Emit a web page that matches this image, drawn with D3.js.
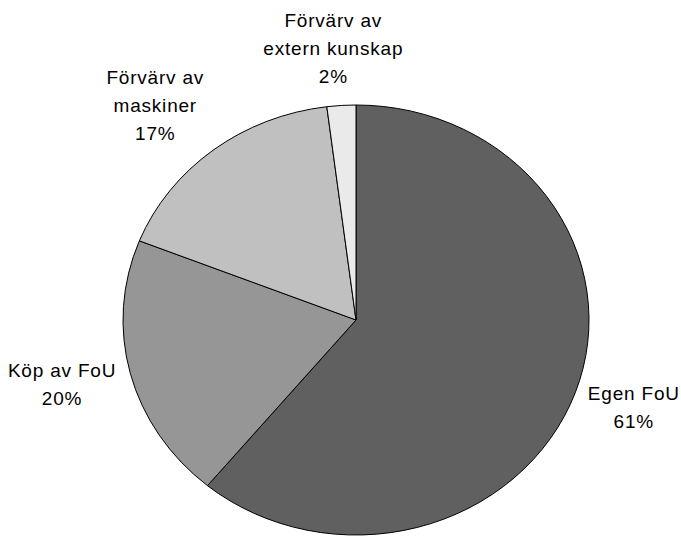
<!DOCTYPE html>
<html>
<head>
<meta charset="utf-8">
<script src="https://cdn.jsdelivr.net/npm/d3@7"></script>
<style>
  html, body { margin: 0; padding: 0; background: #fff; }
  svg { display: block; }
  text { font-family: "Liberation Sans", Arial, sans-serif; font-size: 19px; fill: #000; letter-spacing: 0.8px; }
</style>
</head>
<body>
<svg id="chart" width="681" height="537"></svg>
<script>
const categories = ["Egen FoU", "Köp av FoU", "Förvärv av\nmaskiner", "Förvärv av\nextern kunskap"];
const values = [61, 20, 17, 2];
const colors = ["#606060", "#969696", "#c0c0c0", "#eaeaea"];

const W = 681, H = 537;
const cx = 356, cy = 320, rx = 233, ry = 215;
const lineH = 28, k = 1.07;

const svg = d3.select("#chart");
const data = categories.map((c, i) => ({ label: c, value: values[i], color: colors[i] }));
const pie = d3.pie().sort(null).value(d => d.value);
const arcs = pie(data);
const total = d3.sum(values);

const arc = d3.arc().innerRadius(0).outerRadius(rx);
const g = svg.append("g").attr("transform", `translate(${cx},${cy}) scale(1,${ry / rx})`);
g.selectAll("path").data(arcs).enter().append("path")
  .attr("d", arc)
  .attr("fill", d => d.data.color)
  .attr("stroke", "#000")
  .attr("stroke-width", 1)
  .attr("vector-effect", "non-scaling-stroke");

const labels = svg.append("g");
arcs.forEach(a => {
  const mid = (a.startAngle + a.endAngle) / 2;
  const s = Math.sin(mid), c = Math.cos(mid);
  const lines = a.data.label.split("\n").concat([Math.round(a.data.value / total * 100) + "%"]);
  const t = labels.append("text").attr("text-anchor", "middle");
  const tsp = lines.map(l => t.append("tspan").text(l));
  const w = d3.max(tsp, n => n.node().getComputedTextLength());
  const h = lines.length * lineH;
  const bx = cx + rx * k * s + (w / 2) * s * (s < 0 && c > 0 ? 1.6 : 1);
  const by = cy - ry * k * c - (h / 2) * c;
  tsp.forEach((n, i) => n.attr("x", bx).attr("y", by - h / 2 + 21 + i * lineH));
});
</script>
</body>
</html>
